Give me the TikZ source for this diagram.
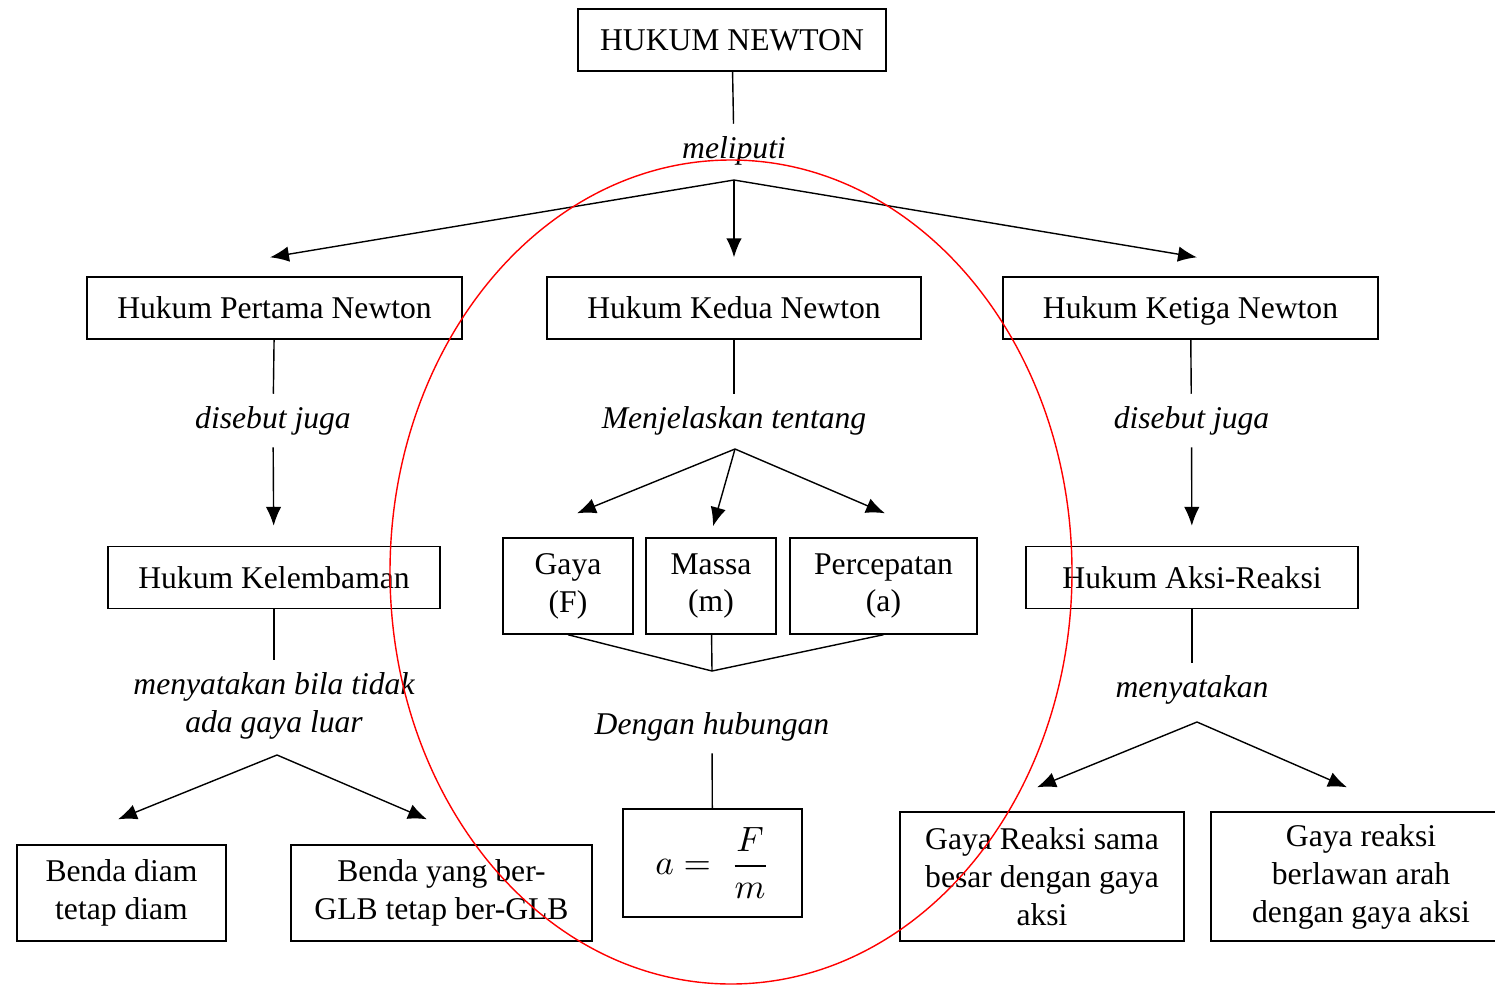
\documentclass[tikz,border=0pt]{standalone}
\usepackage{fontspec}
\setmainfont{Liberation Serif}
\usetikzlibrary{arrows.meta}

\tikzset{>={Latex[length=5.4pt, width=4.4pt]},
         line width=0.75pt,
         box/.style={draw, minimum height=0.62cm, align=center, font=\fontsize{9}{10.8}\selectfont},
         lbl/.style={align=center, yshift=-0.35mm, font=\fontsize{9}{10.8}\selectfont\itshape}}

\begin{document}
\begin{tikzpicture}
        \useasboundingbox (0,0) rectangle (14.95,-9.84);

        \node[box, minimum width=3.08cm] at ( 7.32, -0.40) (newton)     {HUKUM NEWTON};
        \node[lbl]                       at ( 7.34, -1.47) (meliputi)   {meliputi};
        \coordinate                      (pisah)      at ( 7.34, -1.80);

        \node[box, minimum width=3.75cm] at ( 2.745,-3.08) (pertama)    {Hukum Pertama Newton};
        \node[box, minimum width=3.74cm] at ( 7.34, -3.08) (kedua)      {Hukum Kedua Newton};
        \node[box, minimum width=3.75cm, text depth=0pt]
                                         at (11.905,-3.08) (ketiga)     {Hukum Ketiga Newton};

        % kiri
        \node[lbl]                       at ( 2.73, -4.17) (sebutA)     {disebut juga};
        \node[box, minimum width=3.32cm] at ( 2.74, -5.775)(kelembaman) {Hukum Kelembaman};
        \node[lbl]                       at ( 2.74, -7.02) (nyatakanA)  {menyatakan bila tidak\\ada gaya luar};
        \coordinate                      (pisahA)     at ( 2.77, -7.55);
        \node[box, minimum width=2.09cm, minimum height=0.96cm]
                                         at ( 1.215,-8.93) (diam)       {Benda diam\\tetap diam};
        \node[box, minimum width=3.01cm, minimum height=0.96cm]
                                         at ( 4.415,-8.93) (glb)        {Benda yang ber-\\GLB tetap ber-GLB};

        % tengah
        \node[lbl]                       at ( 7.34, -4.17) (jelaskan)   {Menjelaskan tentang};
        \coordinate                      (pisahB)     at ( 7.35, -4.49);
        \node[box, minimum width=1.30cm, minimum height=0.96cm]
                                         at ( 5.68, -5.86) (gaya)       {Gaya\\(F)};
        \node[box, minimum width=1.30cm, minimum height=0.96cm]
                                         at ( 7.11, -5.86) (massa)      {Massa\\(m)};
        \node[box, minimum width=1.87cm, minimum height=0.96cm]
                                         at ( 8.835,-5.86) (percepatan) {Percepatan\\(a)};
        \coordinate                      (gabung)     at ( 7.12, -6.71);
        \node[lbl]                       at ( 7.12, -7.23) (hubungan)   {Dengan hubungan};
        \node[box, minimum width=1.79cm, minimum height=1.08cm, font=\fontsize{10}{12}\selectfont]
                                         at ( 7.125,-8.63) (rumus)      {\(\displaystyle a = \;\frac{F}{m}\)};

        % kanan
        \node[lbl]                       at (11.915,-4.17) (sebutB)     {disebut juga};
        \node[box, minimum width=3.32cm] at (11.92, -5.775)(aksireaksi) {Hukum Aksi-Reaksi};
        \node[lbl]                       at (11.92, -6.86) (nyatakanB)  {menyatakan};
        \coordinate                      (pisahC)     at (11.97, -7.22);
        \node[box, minimum width=2.84cm, minimum height=1.29cm]
                                         at (10.42, -8.765)(reaksisama) {Gaya Reaksi sama\\besar dengan gaya\\aksi};
        \node[box, minimum width=3.00cm, minimum height=1.29cm]
                                         at (13.61, -8.765)(reaksilawan){Gaya reaksi\\berlawan arah\\dengan gaya aksi};

        \draw (newton) -- (meliputi);
        \draw[->] (pisah) -- ([xshift=-0.45mm, yshift=1.9mm]pertama.north);
        \draw[->] (pisah) -- ([yshift=1.9mm]kedua.north);
        \draw[->] (pisah) -- ([xshift=0.65mm, yshift=1.9mm]ketiga.north);

        \draw (pertama) -- (sebutA);
        \draw[->, shorten >=0.2cm] (sebutA) -- (kelembaman);
        \draw (kelembaman) -- (nyatakanA);
        \draw[->] (pisahA) -- ([xshift=-0.35mm, yshift=2.5mm]diam.north);
        \draw[->] (pisahA) -- ([xshift=-1.45mm, yshift=2.5mm]glb.north);

        \draw (kedua) -- (jelaskan);
        \draw[->] (pisahB) -- ([xshift=0.9mm, yshift=2.4mm]gaya.north);
        \draw[->] (pisahB) -- ([xshift=0.2mm, yshift=1.1mm]massa.north);
        \draw[->] (pisahB) -- ([xshift=0.15mm, yshift=2.4mm]percepatan.north);
        \draw (gaya.south) -- (gabung) -- (percepatan.south);
        \draw (massa) -- (gabung);
        \draw (hubungan) -- (rumus);

        \draw (ketiga) -- (sebutB);
        \draw[->, shorten >=0.2cm] (sebutB) -- (aksireaksi);
        \draw (aksireaksi) -- (nyatakanB);
        \draw[->] (pisahC) -- ([xshift=-0.5mm, yshift=2.4mm]reaksisama.north);
        \draw[->] (pisahC) -- ([xshift=-1.4mm, yshift=2.4mm]reaksilawan.north);

        \draw[red, line width=0.4pt] (7.31,-5.72) ellipse (3.41 and 4.12);
\end{tikzpicture}
\end{document}
